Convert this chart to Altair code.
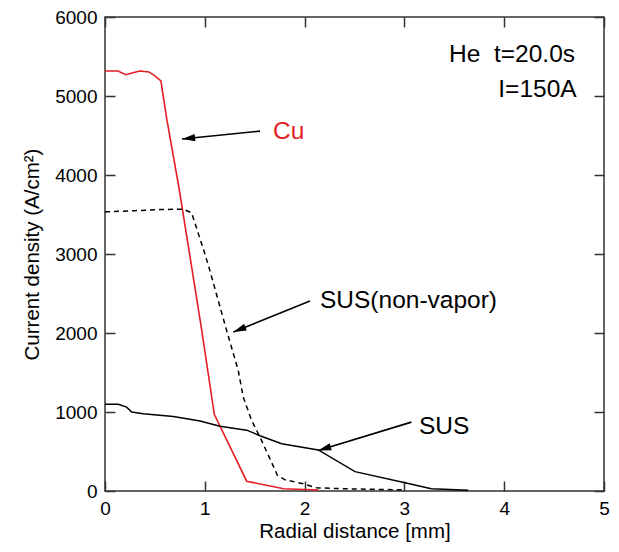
import math
import altair as alt
import pandas as pd

# ---- data ----
cu_x = [0, 0.13, 0.21, 0.27, 0.35, 0.44, 0.50, 0.56, 0.62, 0.745, 0.97, 1.095, 1.42, 1.79, 2.14]
cu_y = [5317, 5317, 5270, 5290, 5317, 5305, 5255, 5190, 4700, 3810, 2030, 970, 124, 28, 12]

nv_x = [0, 0.30, 0.55, 0.785, 0.868, 1.00, 1.05, 1.218, 1.335, 1.385, 1.469, 1.553, 1.653, 1.727,
        1.804, 1.987, 2.12, 2.50, 3.00]
nv_y = [3534, 3548, 3562, 3568, 3521, 3006, 2795, 2034, 1527, 1189, 893, 682, 408, 200,
        142, 91, 40, 25, 15]

sus_x = [0, 0.133, 0.217, 0.267, 0.384, 0.685, 0.952, 1.152, 1.42, 1.553, 1.77, 2.137, 2.505,
         3.006, 3.27, 3.64]
sus_y = [1098, 1098, 1062, 999, 978, 944, 885, 821, 770, 700, 598, 520, 245, 104, 28, 8]

label_text = ["Cu", "SUS(non-vapor)", "SUS"]
label_color = ["#e31e24", "black", "black"]
label_x = [1.683, 2.154, 3.146]
label_y = [4544, 2406, 809]

arrow_x0 = [1.553, 2.054, 3.07]
arrow_y0 = [4555, 2405, 872]
arrow_x1 = [0.772, 1.286, 2.137]
arrow_y1 = [4455, 2013, 513]

info_text = ["He \u00a0t=20.0s", "I=150A"]
info_x = [4.71, 4.726]
info_y = [5520, 5076]

x_ticks = [0, 1, 2, 3, 4, 5]
y_ticks = [0, 1000, 2000, 3000, 4000, 5000, 6000]

W, H = 499, 474
FONT = "Liberation Sans"
ANN = 24.5

cu = pd.DataFrame({"x": cu_x, "y": cu_y})
nv = pd.DataFrame({"x": nv_x, "y": nv_y})
sus = pd.DataFrame({"x": sus_x, "y": sus_y})
labels = pd.DataFrame({"t": label_text, "c": label_color, "x": label_x, "y": label_y})
info = pd.DataFrame({"t": info_text, "x": info_x, "y": info_y})

px_x = W / 5.0
px_y = H / 6000.0
angles = []
for a, b, c, d in zip(arrow_x0, arrow_y0, arrow_x1, arrow_y1):
    dx = (c - a) * px_x
    dy = -(d - b) * px_y
    angles.append(math.degrees(math.atan2(dx, -dy)) % 360)
arrows = pd.DataFrame({"x0": arrow_x0, "y0": arrow_y0, "x1": arrow_x1, "y1": arrow_y1, "ang": angles})

xs = alt.Scale(domain=[0, 5], nice=False, zero=False)
ys = alt.Scale(domain=[0, 6000], nice=False, zero=False)

common_axis = dict(offset=-10, tickSize=10, domain=False, grid=False, tickColor="#333",
                   tickWidth=1.5, labelFont=FONT, labelFontSize=19, labelColor="black",
                   titleFont=FONT, titleFontSize=20.5, titleFontWeight="normal", titleColor="black")

x_axis = alt.Axis(orient="bottom", values=x_ticks, labelPadding=8, title="Radial distance [mm]",
                  titlePadding=3, labelFlush=False, **common_axis)
y_axis = alt.Axis(orient="left", values=y_ticks, format="d", labelPadding=8,
                  title="Current density (A/cm²)", titlePadding=12, **common_axis)
x_top = alt.Axis(orient="top", values=x_ticks, labels=False, title=None, offset=-10, tickSize=10,
                 domain=False, grid=False, tickColor="#333", tickWidth=1.5)
y_right = alt.Axis(orient="right", values=y_ticks, labels=False, title=None, offset=-10, tickSize=10,
                   domain=False, grid=False, tickColor="#333", tickWidth=1.5)

cu_line = alt.Chart(cu).mark_line(color="#e31e24", strokeWidth=1.6).encode(
    x=alt.X("x:Q", scale=xs, axis=x_axis), y=alt.Y("y:Q", scale=ys, axis=y_axis))
mirror = alt.Chart(cu).mark_line(strokeOpacity=0).encode(
    x=alt.X("x:Q", scale=xs, axis=x_top), y=alt.Y("y:Q", scale=ys, axis=y_right))
nv_line = alt.Chart(nv).mark_line(color="black", strokeWidth=1.5, strokeDash=[5, 4]).encode(
    x=alt.X("x:Q", axis=None), y=alt.Y("y:Q", axis=None))
sus_line = alt.Chart(sus).mark_line(color="black", strokeWidth=1.5).encode(
    x=alt.X("x:Q", axis=None), y=alt.Y("y:Q", axis=None))

arrow_lines = alt.Chart(arrows).mark_rule(color="black", strokeWidth=1.6).encode(
    x=alt.X("x0:Q", axis=None), y=alt.Y("y0:Q", axis=None), x2="x1:Q", y2="y1:Q")
arrow_heads = alt.Chart(arrows).mark_point(
    shape="M0,0 L0.28,1 L-0.28,1 Z", filled=True, color="black", size=676, opacity=1).encode(
    x=alt.X("x1:Q", axis=None), y=alt.Y("y1:Q", axis=None), angle=alt.Angle("ang:Q", scale=None))

label_marks = alt.Chart(labels).mark_text(font=FONT, fontSize=ANN, align="left", baseline="middle").encode(
    x=alt.X("x:Q", axis=None), y=alt.Y("y:Q", axis=None), text="t:N",
    color=alt.Color("c:N", scale=None))
info_marks = alt.Chart(info).mark_text(font=FONT, fontSize=ANN, align="right", baseline="middle",
                                       color="black").encode(
    x=alt.X("x:Q", axis=None), y=alt.Y("y:Q", axis=None), text="t:N")

chart = alt.layer(cu_line, mirror, nv_line, sus_line, arrow_lines, arrow_heads, label_marks, info_marks
).resolve_axis(x="independent", y="independent").properties(
    width=W, height=H, autosize=alt.AutoSizeParams(type="none"),
    padding={"left": 97, "top": 9, "right": 7, "bottom": 53}
).configure_view(stroke="#333", strokeWidth=1.5)

chart.save("out.html", embed_options={"renderer": "svg", "actions": False})
